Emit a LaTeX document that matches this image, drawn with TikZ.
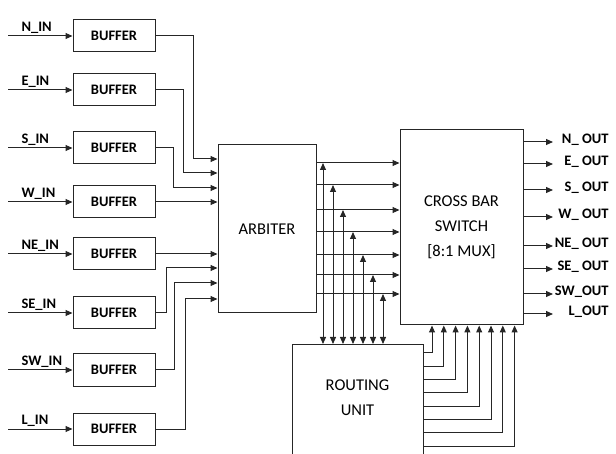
\documentclass[tikz,border=0pt]{standalone}
\usepackage{fontspec}
\setmainfont{Carlito}
\usetikzlibrary{calc, positioning}
\usetikzlibrary{arrows.meta}

\tikzset{
  blk/.style={draw=black!85, line width=1pt, inner sep=0pt},
  arr/.style={draw=black!85, line width=1pt, -{Triangle[length=7pt,width=6pt]}},
  dblarr/.style={draw=black!85, line width=1pt, {Triangle[length=7pt,width=6pt]}-{Triangle[length=7pt,width=6pt]}},
  smalltxt/.style={font=\fontsize{14.5}{16}\selectfont\bfseries},
  bigtxt/.style={font=\fontsize{16.5}{25}\selectfont, align=center},
}

\begin{document}
\begin{tikzpicture}[x=1pt, y=-1pt]
\path[use as bounding box, clip] (0,0) rectangle (616,454);

\foreach \n/\dir/\y in {1/N/36, 2/E/90, 3/S/148, 4/W/202, 5/NE/254, 6/SE/313, 7/SW/370, 8/L/429} {
  \node[blk, smalltxt, minimum width=82pt, minimum height=32pt] (buf\n) at (114,\y) {BUFFER};
  \coordinate (src\n) at (8,\y);
  \draw[arr] (src\n) -- (buf\n.west);
  \node[smalltxt, anchor=west] (in\n) at (18,\y-8) {\dir\_IN};
}

\node[blk, bigtxt, minimum width=98pt, minimum height=168pt] (arb) at (267,229) {ARBITER};
\node[blk, bigtxt, minimum width=123pt, minimum height=195pt] (xbar) at (461.5,227.5) {CROSS BAR\\SWITCH\\{[8:1 MUX]}};
\node[blk, bigtxt, minimum width=131pt, anchor=north, text height=71pt, text depth=65pt] (route) at (357.5,344) {ROUTING\\UNIT};

\foreach \n/\dx/\ty in {1/38/159, 2/28/173, 3/18/188, 6/11/268, 7/19/283, 8/30/299}
  \draw[arr] (buf\n.east) -- ++(\dx,0) |- (arb.west |- 0,\ty);
\foreach \n in {4,5}
  \draw[arr] (buf\n.east) -- (arb.west |- buf\n.east);

\foreach \i/\x/\y in {1/323/163, 2/333/185, 3/343/210, 4/353/232, 5/363/255, 6/373/275, 7/383/294} {
  \coordinate (h\i) at (\x,\y);
  \draw[arr] (arb.east |- h\i) -- (xbar.west |- h\i);
  \draw[dblarr] (route.north -| h\i) -- (h\i);
}

\foreach \j [evaluate=\j as \rx using 432+11.8*\j, evaluate=\j as \ry using 353+13.3*\j] in {0,...,7}
  \draw[arr] (route.east |- 0,\ry) -| (xbar.south -| \rx,0);

\foreach \n/\txt/\y in {1/N\_ OUT/142, 2/E\_ OUT/164, 3/S\_ OUT/190, 4/W\_ OUT/217, 5/NE\_ OUT/246, 6/SE\_ OUT/269, 7/SW\_OUT/294, 8/L\_OUT/314} {
  \coordinate (tip\n) at (553,\y);
  \draw[arr] (xbar.east |- tip\n) -- (tip\n);
  \node[smalltxt, anchor=east] (out\n) at (612,\y-2) {\txt};
}
\end{tikzpicture}
\end{document}
